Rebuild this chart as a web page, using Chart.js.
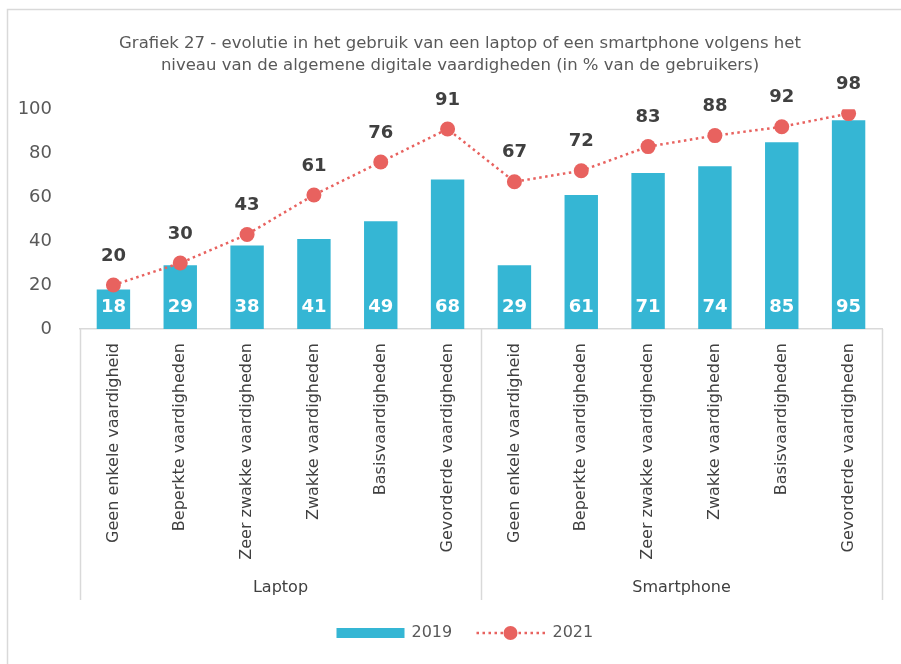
<!DOCTYPE html>
<html>
<head>
<meta charset="utf-8">
<script src="https://cdn.jsdelivr.net/npm/chart.js@4.4.1/dist/chart.umd.min.js"></script>
<style>
  body { margin: 0; background: #fff; }
</style>
</head>
<body>
<canvas id="chart" width="901" height="664"></canvas>
<script>
// data
const categories = [
    'Geen enkele vaardigheid', 'Beperkte vaardigheden', 'Zeer zwakke vaardigheden',
    'Zwakke vaardigheden', 'Basisvaardigheden', 'Gevorderde vaardigheden',
    'Geen enkele vaardigheid', 'Beperkte vaardigheden', 'Zeer zwakke vaardigheden',
    'Zwakke vaardigheden', 'Basisvaardigheden', 'Gevorderde vaardigheden'
];
const groups = ['Laptop', 'Smartphone'];
const groupSize = 6;
const values2019 = [18, 29, 38, 41, 49, 68, 29, 61, 71, 74, 85, 95];
const values2021 = [20, 30, 43, 61, 76, 91, 67, 72, 83, 88, 92, 98];
const yTickValues = [0, 20, 40, 60, 80, 100];
const titleLines = [
    'Grafiek 27 - evolutie in het gebruik van een laptop of een smartphone volgens het',
    'niveau van de algemene digitale vaardigheden (in % van de gebruikers)'
];

const barColor = '#35b6d4';
const lineColor = '#e8625f';
const textGrey = '#595959';
const fontMain = "'DejaVu Sans', Verdana, sans-serif";

// achtergrond en rand
const framePlugin = {
    id: 'frame',
    beforeDraw(chart) {
        const ctx = chart.ctx;
        ctx.save();
        ctx.fillStyle = '#fff';
        ctx.fillRect(0, 0, chart.width, chart.height);
        ctx.strokeStyle = '#d9d9d9';
        ctx.lineWidth = 1.5;
        ctx.strokeRect(7.5, 9.5, chart.width + 20, chart.height + 20);
        ctx.restore();
    }
};

// titel iets naar rechts, zoals in het origineel
const titleShiftPlugin = {
    id: 'titleShift',
    afterLayout(chart) {
        if (chart.titleBlock) {
            chart.titleBlock.left += 19;
            chart.titleBlock.right += 19;
        }
    }
};

// groepslabels onder de as
const groupAxisPlugin = {
    id: 'groupAxis',
    afterDraw(chart) {
        const ctx = chart.ctx;
        const x = chart.scales.x;
        const step = x.getPixelForValue(1) - x.getPixelForValue(0);
        ctx.save();
        ctx.strokeStyle = '#d9d9d9';
        ctx.lineWidth = 1.5;
        for (let g = 0; g <= groups.length; g++) {
            const px = x.getPixelForValue(g * groupSize) - step / 2;
            ctx.beginPath();
            ctx.moveTo(Math.round(px) + 0.5, x.top);
            ctx.lineTo(Math.round(px) + 0.5, x.bottom);
            ctx.stroke();
        }
        ctx.fillStyle = '#404040';
        ctx.font = '16px ' + fontMain;
        ctx.textAlign = 'center';
        ctx.textBaseline = 'middle';
        groups.forEach((name, g) => {
            const left = x.getPixelForValue(g * groupSize) - step / 2;
            const right = x.getPixelForValue((g + 1) * groupSize - 1) + step / 2;
            ctx.fillText(name, (left + right) / 2, x.bottom - 12);
        });
        ctx.restore();
    }
};

// waardelabels
const valueLabelPlugin = {
    id: 'valueLabels',
    afterDatasetsDraw(chart) {
        const ctx = chart.ctx;
        const base = chart.scales.y.getPixelForValue(0);
        ctx.save();
        ctx.font = 'bold 18px ' + fontMain;
        ctx.textAlign = 'center';
        ctx.textBaseline = 'middle';
        chart.getDatasetMeta(0).data.forEach((el, i) => {
            ctx.fillStyle = '#fff';
            ctx.fillText(values2019[i], el.x, base - 22);
        });
        chart.getDatasetMeta(1).data.forEach((el, i) => {
            ctx.fillStyle = '#404040';
            ctx.fillText(values2021[i], el.x, el.y - 29);
        });
        ctx.restore();
    }
};

// legende
const legendPlugin = {
    id: 'customLegend',
    afterDraw(chart) {
        const ctx = chart.ctx;
        const cx = chart.width / 2 + 14;
        const y = 633;
        ctx.save();
        ctx.fillStyle = barColor;
        ctx.fillRect(cx - 128, y - 5, 68, 10);
        ctx.fillStyle = textGrey;
        ctx.font = '16px ' + fontMain;
        ctx.textBaseline = 'middle';
        ctx.fillText('2019', cx - 53, y);
        ctx.strokeStyle = lineColor;
        ctx.lineWidth = 2.5;
        ctx.setLineDash([2.5, 3.5]);
        ctx.beginPath();
        ctx.moveTo(cx + 12, y);
        ctx.lineTo(cx + 82, y);
        ctx.stroke();
        ctx.setLineDash([]);
        ctx.fillStyle = lineColor;
        ctx.beginPath();
        ctx.arc(cx + 46, y, 7, 0, Math.PI * 2);
        ctx.fill();
        ctx.fillStyle = textGrey;
        ctx.fillText('2021', cx + 88, y);
        ctx.restore();
    }
};

window.onload = function() {
    const ctx = document.getElementById('chart').getContext('2d');
    new Chart(ctx, {
        type: 'bar',
        data: {
            labels: categories,
            datasets: [
                {
                    label: '2019',
                    data: values2019,
                    backgroundColor: barColor,
                    barPercentage: 0.5,
                    categoryPercentage: 1,
                    order: 2
                },
                {
                    label: '2021',
                    data: values2021,
                    type: 'line',
                    borderColor: lineColor,
                    borderWidth: 2.5,
                    borderDash: [2.5, 3.5],
                    pointRadius: 7.5,
                    pointBorderWidth: 0,
                    pointBackgroundColor: lineColor,
                    tension: 0,
                    fill: false,
                    order: 1
                }
            ]
        },
        options: {
            responsive: false,
            animation: false,
            layout: {
                padding: { left: 0, right: 19, top: 0, bottom: 64 }
            },
            plugins: {
                legend: { display: false },
                tooltip: { enabled: false },
                title: {
                    display: true,
                    text: titleLines,
                    color: textGrey,
                    font: { family: fontMain, size: 16.5, weight: 'normal', lineHeight: 1.34 },
                    padding: { top: 33, bottom: 32 }
                }
            },
            scales: {
                x: {
                    grid: { display: false },
                    border: { display: true, color: '#d9d9d9', width: 1.5 },
                    ticks: {
                        autoSkip: false,
                        minRotation: 90,
                        maxRotation: 90,
                        padding: 6,
                        color: '#404040',
                        font: { family: fontMain, size: 16 }
                    },
                    afterFit: (scale) => { scale.height = 271; }
                },
                y: {
                    min: 0,
                    max: 100,
                    grid: { display: false },
                    border: { display: false },
                    afterBuildTicks: (scale) => {
                        scale.ticks = yTickValues.map(v => ({ value: v }));
                    },
                    ticks: {
                        padding: 20,
                        color: textGrey,
                        font: { family: fontMain, size: 18 }
                    },
                    afterFit: (scale) => { scale.width = 80; }
                }
            }
        },
        plugins: [framePlugin, titleShiftPlugin, groupAxisPlugin, valueLabelPlugin, legendPlugin]
    });
};
</script>
</body>
</html>
